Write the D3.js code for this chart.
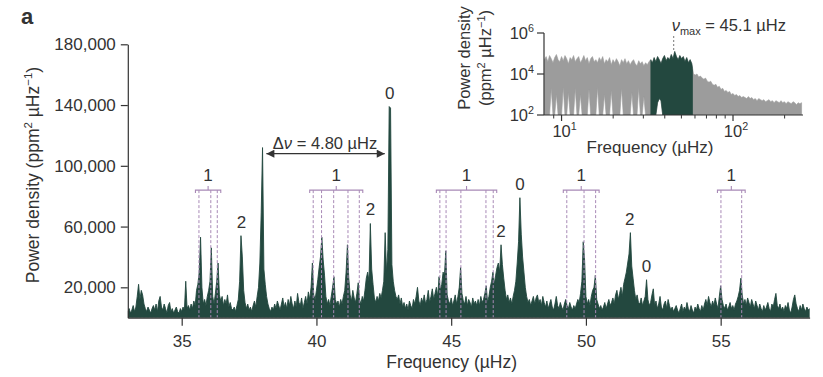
<!DOCTYPE html>
<html>
<head>
<meta charset="utf-8">
<script src="https://cdn.jsdelivr.net/npm/d3@7"></script>
<style>
  body { margin: 0; background: #fff; }
  text { font-family: "Liberation Sans", Arial, Helvetica, sans-serif; fill: #333; }
</style>
</head>
<body>
<svg id="chart" width="823" height="377"></svg>
<script>
// Oscillation power spectrum, 33.00–58.30 µHz in 0.05 µHz bins (thousand ppm² µHz⁻¹)
const specStart = 33.0;
const specStep = 0.05;
const specPower = [
  4, 6, 3, 5, 8, 4, 7, 14, 22, 12, 18, 15, 9, 6, 4, 7, 5, 3, 6, 8,          // 33
  5, 9, 4, 11, 14, 7, 5, 9, 6, 3, 8, 10, 4, 6, 3, 5, 7, 4, 3, 6,            // 34
  4, 7, 5, 24, 6, 8, 5, 9, 6, 11, 8, 18, 22, 30, 53, 20, 9, 12, 8, 14,      // 35
  18, 24, 46, 14, 9, 16, 24, 36, 15, 11, 14, 8, 12, 9, 15, 7, 10, 6, 5, 7,  // 36
  4, 8, 12, 24, 54, 40, 18, 10, 6, 9, 5, 7, 4, 8, 11, 7, 14, 20, 36, 69,    // 37
  112, 32, 22, 14, 9, 6, 4, 7, 5, 9, 6, 11, 8, 5, 9, 13, 7, 10, 6, 12,      // 38
  8, 14, 9, 6, 11, 7, 16, 10, 8, 13, 6, 10, 14, 9, 17, 12, 20, 36, 15, 12,  // 39
  18, 25, 33, 40, 53, 38, 28, 14, 9, 12, 8, 14, 20, 27, 12, 9, 11, 7, 12, 9, // 40
  14, 18, 30, 48, 26, 15, 11, 18, 13, 10, 16, 23, 12, 9, 14, 11, 18, 26, 30, 24, // 41
  62, 32, 22, 13, 10, 14, 11, 16, 13, 18, 24, 56, 30, 45, 139, 138, 35, 24, 18, 14, // 42
  12, 15, 9, 13, 7, 10, 6, 9, 5, 11, 8, 6, 12, 9, 14, 20, 11, 8, 13, 10,    // 43
  15, 9, 12, 18, 10, 14, 19, 12, 16, 20, 14, 27, 18, 22, 30, 28, 44, 15, 11, 9, // 44
  13, 8, 11, 15, 9, 14, 20, 33, 16, 11, 9, 14, 8, 12, 10, 7, 13, 9, 11, 8,  // 45
  12, 8, 14, 10, 12, 16, 21, 10, 14, 20, 24, 30, 22, 28, 33, 36, 30, 48, 35, 26, // 46
  18, 12, 15, 10, 13, 9, 14, 18, 24, 36, 50, 79, 55, 40, 30, 20, 14, 10, 12, 8, // 47
  11, 14, 9, 13, 15, 10, 12, 8, 14, 10, 7, 11, 6, 9, 12, 7, 5, 9, 14, 8,    // 48
  6, 10, 7, 5, 9, 12, 8, 6, 10, 7, 5, 8, 6, 9, 12, 10, 16, 24, 50, 38,      // 49
  14, 9, 12, 8, 14, 18, 20, 28, 12, 9, 6, 8, 5, 7, 10, 6, 9, 12, 8, 10,     // 50
  13, 9, 15, 18, 12, 16, 20, 14, 22, 26, 30, 36, 42, 56, 34, 26, 18, 12, 15, 10, // 51
  9, 13, 8, 11, 14, 25, 12, 8, 10, 15, 19, 8, 11, 6, 9, 14, 7, 5, 9, 11,    // 52
  6, 12, 8, 5, 7, 4, 6, 8, 5, 3, 6, 9, 4, 7, 5, 10, 6, 4, 8, 5,             // 53
  3, 7, 5, 9, 6, 4, 8, 5, 9, 12, 8, 14, 10, 7, 11, 8, 13, 9, 6, 14,         // 54
  21, 12, 8, 6, 9, 5, 7, 10, 6, 8, 5, 9, 11, 14, 18, 26, 15, 9, 12, 8,      // 55
  13, 10, 7, 12, 9, 6, 11, 8, 5, 9, 6, 4, 8, 5, 7, 10, 6, 4, 9, 7,          // 56
  12, 16, 8, 6, 9, 5, 7, 4, 8, 6, 10, 5, 3, 7, 12, 15, 9, 6, 4, 8,          // 57
  5, 9, 6, 4, 7, 5, 6                                                       // 58
];

const yTicks = [20000, 60000, 100000, 140000, 180000];
const xTicks = [35, 40, 45, 50, 55];

// Mode identification: l = 1 multiplets (dashed), l = 2 and l = 0 peaks
const l1Groups = [
  [35.64, 36.08, 36.32],
  [39.88, 40.19, 40.64, 41.17, 41.59],
  [44.58, 44.81, 45.36, 46.29, 46.56],
  [49.29, 49.93, 50.36],
  [55.01, 55.78]
];
const l2Freqs = [37.22, 42.01, 46.85, 51.63];
const l0Freqs = [42.72, 47.55, 52.25];
const deltaNu = 4.80;
const nuMax = 45.1;

// Inset: full spectrum on log axes, log10(frequency) grid from 0.90 in steps of 0.01,
// upper and lower envelope of the power as log10 values
const insetLogStart = 0.90;
const insetLogStep = 0.01;
const insetUpper = [
  4.7, 4.85, 4.6, 4.9, 4.75, 4.55, 4.8, 4.95, 4.7, 4.6,
  4.85, 4.65, 4.9, 4.75, 4.5, 4.8, 4.7, 4.9, 4.6, 4.75,
  4.85, 4.55, 4.7, 4.9, 4.65, 4.8, 4.5, 4.75, 4.85, 4.6,
  4.7, 4.55, 4.8, 4.65, 4.85, 4.5, 4.7, 4.6, 4.8, 4.45,
  4.7, 4.55, 4.75, 4.6, 4.4, 4.7, 4.55, 4.75, 4.5, 4.65,
  4.45, 4.6, 4.7, 4.5, 4.4, 4.65, 4.5, 4.6, 4.4, 4.55,
  4.45, 4.6, 4.7, 4.55, 4.8, 4.6, 4.85, 4.7, 4.5, 4.75,
  4.9, 4.65, 4.8, 4.7, 4.95, 4.75, 5.1, 4.85, 4.7, 4.9,
  4.75, 4.85, 4.6, 4.8, 4.55, 4.7, 4.5, 4.0, 3.95, 4.0,
  3.85, 3.9, 3.8, 3.75, 3.8, 3.65, 3.6, 3.65, 3.5, 3.45,
  3.5, 3.35, 3.4, 3.25, 3.3, 3.15, 3.2, 3.1, 3.15, 3.0,
  3.05, 2.95, 3.0, 2.9, 2.95, 2.85, 2.9, 2.85, 2.8, 2.9,
  2.8, 2.85, 2.75, 2.8, 2.7, 2.8, 2.75, 2.7, 2.75, 2.65,
  2.7, 2.75, 2.65, 2.7, 2.6, 2.7, 2.65, 2.6, 2.7, 2.6,
  2.65, 2.55, 2.65, 2.6, 2.55, 2.65, 2.6, 2.5, 2.6, 2.55,
  2.6
];
const insetLower = [
  2, 2, 2, 2, 3.3, 2, 2, 3.0, 2, 2,
  2, 3.35, 2, 2, 3.1, 2, 2, 2, 3.3, 2,
  2, 3.0, 2, 2, 2, 2, 3.25, 2, 2, 2,
  2, 3.35, 2, 2, 2, 3.0, 2, 2, 2, 3.2,
  2, 2, 2, 2, 2, 3.3, 2, 2, 2, 2,
  2, 3.1, 2, 2, 2, 3.3, 2, 2, 2.9, 2,
  2, 2, 2, 2, 2, 2, 2.6, 2.8, 2.7, 2,
  2, 2, 2, 2, 2, 2, 2, 2, 2, 2,
  2, 2, 2, 2, 2, 2, 2, 2, 2, 2,
  2, 2, 2, 2, 2, 2, 2, 2, 2, 2,
  2, 2, 2, 2, 2, 2, 2, 2, 2, 2,
  2, 2, 2, 2, 2, 2, 2, 2, 2, 2,
  2, 2, 2, 2, 2, 2, 2, 2, 2, 2,
  2, 2, 2, 2, 2, 2, 2, 2, 2, 2,
  2, 2, 2, 2, 2, 2, 2, 2, 2, 2,
  2
];
const insetYTicks = [1e2, 1e4, 1e6];
const insetXMajor = [10, 100];
const insetXMinor = [9, 20, 30, 40, 50, 60, 70, 80, 90, 200];

const GREEN = "#23483f";
const GREY = "#9c9c9c";
const MODE = "#a889b6";
const INK = "#333";

const svg = d3.select("#chart");

const spec = specPower.map((v, i) => ({ f: specStart + i * specStep, p: v * 1000 }));

const x = d3.scaleLinear().domain([33, 58.3]).range([127.8, 809.6]);
const y = d3.scaleLinear().domain([0, 180000]).range([317.7, 44.3]);

function sup(textSel, base, power, size) {
  textSel.append("tspan").text(base);
  textSel.append("tspan").attr("dy", -size * 0.42).attr("font-size", size * 0.65).text(power);
  textSel.append("tspan").attr("dy", size * 0.42).text("");
}

// ---- main spectrum ----
svg.append("clipPath").attr("id", "mainClip")
  .append("rect").attr("x", x.range()[0]).attr("y", 0)
  .attr("width", x.range()[1] - x.range()[0]).attr("height", y(0));

const area = d3.area().x(d => x(d.f)).y0(y(0)).y1(d => y(d.p));
svg.append("path").datum(spec)
  .attr("clip-path", "url(#mainClip)")
  .attr("d", area)
  .attr("fill", GREEN)
  .attr("stroke", GREEN)
  .attr("stroke-width", 0.9)
  .attr("stroke-linejoin", "miter");

// l = 1 multiplets: dashed markers and brackets
const bracketY = y(84000);
l1Groups.forEach(group => {
  group.forEach(f => {
    svg.append("line")
      .attr("x1", x(f)).attr("x2", x(f))
      .attr("y1", bracketY).attr("y2", y(0))
      .attr("stroke", MODE).attr("stroke-width", 1)
      .attr("stroke-dasharray", "3,2");
  });
  const x0 = x(d3.min(group)) - 3.5, x1 = x(d3.max(group)) + 3.5, xm = (x0 + x1) / 2;
  svg.append("path")
    .attr("d", `M${x0},${bracketY + 3}V${bracketY}H${x1}V${bracketY + 3}M${xm},${bracketY}V${bracketY - 4}`)
    .attr("fill", "none").attr("stroke", MODE).attr("stroke-width", 1.1);
  svg.append("text").attr("x", xm).attr("y", bracketY - 15).attr("dy", "0.35em")
    .attr("text-anchor", "middle").attr("font-size", 17).text("1");
});

function peakTop(f) {
  return d3.max(spec.filter(d => Math.abs(d.f - f) <= 0.08), d => d.p);
}
[[l2Freqs, "2"], [l0Freqs, "0"]].forEach(([freqs, lab]) => {
  freqs.forEach(f => {
    svg.append("text").attr("x", x(f)).attr("y", y(peakTop(f)) - 14).attr("dy", "0.35em")
      .attr("text-anchor", "middle").attr("font-size", 17).text(lab);
  });
});

// large frequency separation between consecutive l = 0 modes
const dnuEnd = l0Freqs[0], dnuStartF = dnuEnd - deltaNu;
const arrowY = y(108000);
const defs = svg.append("defs");
["start", "end"].forEach(k => {
  defs.append("marker").attr("id", "arrow-" + k)
    .attr("viewBox", "0 0 10 10").attr("refX", k === "end" ? 10 : 0).attr("refY", 5)
    .attr("markerWidth", 9).attr("markerHeight", 8).attr("markerUnits", "userSpaceOnUse")
    .attr("orient", "auto")
    .append("path")
    .attr("d", k === "end" ? "M0,0L10,5L0,10Z" : "M10,0L0,5L10,10Z")
    .attr("fill", INK);
});
svg.append("line")
  .attr("x1", x(dnuStartF) + 6).attr("x2", x(dnuEnd) - 5)
  .attr("y1", arrowY).attr("y2", arrowY)
  .attr("stroke", INK).attr("stroke-width", 1.3)
  .attr("marker-start", "url(#arrow-start)").attr("marker-end", "url(#arrow-end)");
const dnuText = svg.append("text").attr("x", (x(dnuStartF) + x(dnuEnd)) / 2).attr("y", arrowY - 5)
  .attr("text-anchor", "middle").attr("font-size", 16.5);
dnuText.append("tspan").text("Δ");
dnuText.append("tspan").attr("font-style", "italic").text("ν");
dnuText.append("tspan").text(` = ${deltaNu.toFixed(2)} µHz`);

// axes
const yAxis = d3.axisLeft(y).tickValues(yTicks).tickSize(7).tickSizeOuter(0).tickPadding(5)
  .tickFormat(d3.format(","));
const gy = svg.append("g").attr("transform", `translate(${x.range()[0]},0)`).call(yAxis);
const xAxis = d3.axisBottom(x).tickValues(xTicks).tickSize(8).tickSizeOuter(0).tickPadding(9);
const gx = svg.append("g").attr("transform", `translate(0,${y(0)})`).call(xAxis);
[gx, gy].forEach(g => {
  g.selectAll(".domain").attr("stroke", INK).attr("stroke-width", 1.2);
  g.selectAll(".tick line").attr("stroke", INK).attr("stroke-width", 1.2);
  g.selectAll(".tick text").attr("font-size", 17).attr("fill", INK)
    .attr("font-family", '"Liberation Sans", Arial, sans-serif');
});

svg.append("text").attr("x", (x.range()[0] + x.range()[1]) / 2 - 17).attr("y", 368)
  .attr("text-anchor", "middle").attr("font-size", 17.5).text("Frequency (µHz)");

const yl = svg.append("text").attr("transform", "translate(39,175) rotate(-90)")
  .attr("text-anchor", "middle").attr("font-size", 17.5);
yl.append("tspan").text("Power density (ppm");
yl.append("tspan").attr("dy", -7).attr("font-size", 11.5).text("2");
yl.append("tspan").attr("dy", 7).text(" µHz");
yl.append("tspan").attr("dy", -7).attr("font-size", 11.5).text("−1");
yl.append("tspan").attr("dy", 7).text(")");

svg.append("text").attr("x", 21).attr("y", 24).attr("font-size", 22).attr("font-weight", "bold")
  .attr("fill", "#222").text("a");

// ---- inset ----
const ix = d3.scaleLog().domain([7.9, 256]).range([544, 803]);
const iy = d3.scaleLog().domain([1e2, 1e6]).range([115, 33]);
const inset = insetUpper.map((u, i) => ({
  f: Math.pow(10, insetLogStart + i * insetLogStep),
  hi: Math.pow(10, u),
  lo: Math.pow(10, insetLower[i])
}));

svg.append("clipPath").attr("id", "insetClip")
  .append("rect").attr("x", 544).attr("y", 20).attr("width", 259).attr("height", 95);
svg.append("clipPath").attr("id", "bandClip")
  .append("rect").attr("x", ix(33)).attr("y", 20).attr("width", ix(58.3) - ix(33)).attr("height", 95);

const iArea = d3.area().x(d => ix(d.f)).y0(d => iy(d.lo)).y1(d => iy(d.hi));
const insetG = svg.append("g").attr("clip-path", "url(#insetClip)");
insetG.append("path").datum(inset).attr("d", iArea)
  .attr("fill", GREY).attr("stroke", GREY).attr("stroke-width", 0.6);
insetG.append("g").attr("clip-path", "url(#bandClip)")
  .append("path").datum(inset).attr("d", iArea)
  .attr("fill", GREEN).attr("stroke", GREEN).attr("stroke-width", 0.6);

// inset axes
svg.append("line").attr("x1", 544).attr("x2", 544).attr("y1", iy(1e6)).attr("y2", iy(1e2))
  .attr("stroke", INK).attr("stroke-width", 1.2);
svg.append("line").attr("x1", 544).attr("x2", 803).attr("y1", iy(1e2)).attr("y2", iy(1e2))
  .attr("stroke", INK).attr("stroke-width", 1.2);
insetYTicks.forEach(v => {
  svg.append("line").attr("x1", 537).attr("x2", 544).attr("y1", iy(v)).attr("y2", iy(v))
    .attr("stroke", INK).attr("stroke-width", 1.2);
  const t = svg.append("text").attr("x", 534).attr("y", iy(v) + 6)
    .attr("text-anchor", "end").attr("font-size", 16.5);
  sup(t, "10", String(Math.round(Math.log10(v))), 16.5);
});
insetXMajor.forEach(v => {
  svg.append("line").attr("x1", ix(v)).attr("x2", ix(v)).attr("y1", 115).attr("y2", 121)
    .attr("stroke", INK).attr("stroke-width", 1.2);
  const t = svg.append("text").attr("x", ix(v) + 3).attr("y", 137)
    .attr("text-anchor", "middle").attr("font-size", 16.5);
  sup(t, "10", String(Math.round(Math.log10(v))), 16.5);
});
insetXMinor.forEach(v => {
  svg.append("line").attr("x1", ix(v)).attr("x2", ix(v)).attr("y1", 115).attr("y2", 118.5)
    .attr("stroke", INK).attr("stroke-width", 1);
});
svg.append("text").attr("x", 650).attr("y", 153).attr("text-anchor", "middle")
  .attr("font-size", 17).text("Frequency (µHz)");

svg.append("text").attr("transform", "translate(470,58) rotate(-90)")
  .attr("text-anchor", "middle").attr("font-size", 16.5).text("Power density");
const iyl2 = svg.append("text").attr("transform", "translate(491,58) rotate(-90)")
  .attr("text-anchor", "middle").attr("font-size", 16.5);
iyl2.append("tspan").text("(ppm");
iyl2.append("tspan").attr("dy", -6).attr("font-size", 11).text("2");
iyl2.append("tspan").attr("dy", 6).text(" µHz");
iyl2.append("tspan").attr("dy", -6).attr("font-size", 11).text("−1");
iyl2.append("tspan").attr("dy", 6).text(")");

// frequency of maximum oscillation power
svg.append("line").attr("x1", ix(nuMax)).attr("x2", ix(nuMax)).attr("y1", 36).attr("y2", 51)
  .attr("stroke", "#777").attr("stroke-width", 1).attr("stroke-dasharray", "2,2");
const nm = svg.append("text").attr("x", ix(nuMax) - 2).attr("y", 31).attr("font-size", 16.5);
nm.append("tspan").attr("font-style", "italic").text("ν");
nm.append("tspan").attr("dy", 4).attr("font-size", 11).text("max");
nm.append("tspan").attr("dy", -4).text(` = ${nuMax} µHz`);
</script>
</body>
</html>
